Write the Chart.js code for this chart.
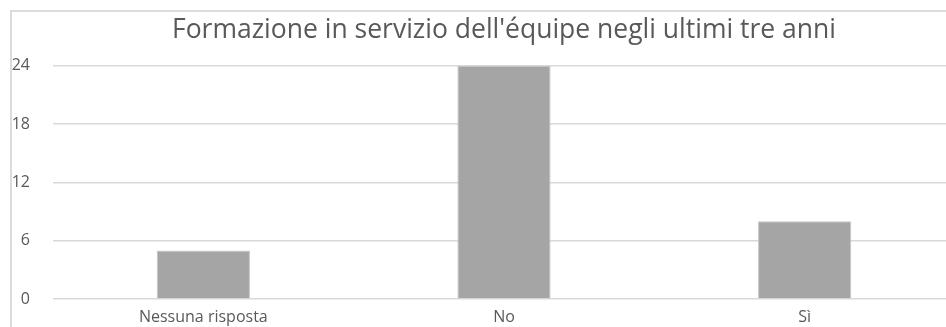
<!DOCTYPE html>
<html>
<head>
<meta charset="utf-8">
<script src="https://cdn.jsdelivr.net/npm/chart.js@4/dist/chart.umd.min.js"></script>
<style>
    html, body { margin: 0; padding: 0; background: #fff; overflow: hidden; }
    #wrap { position: relative; width: 946px; height: 327px; overflow: hidden; }
    #frame { position: absolute; left: 10px; top: 10px; width: 960px; height: 340px;
             border-left: 2px solid #dcdcdc; border-top: 2px solid #dcdcdc; }
    #box { position: absolute; left: 0; top: 0; width: 970px; height: 345px; }
</style>
</head>
<body>
<div id="wrap">
    <div id="frame"></div>
    <div id="box"><canvas id="chart"></canvas></div>
</div>
<script>
// data
const categories = ['Nessuna risposta', 'No', 'Sì'];
const counts = [5, 24, 8];
const yTicks = [0, 6, 12, 18, 24];

const textColor = '#595959';
const gridColor = '#d9d9d9';

const ctx = document.getElementById('chart').getContext('2d');
new Chart(ctx, {
    type: 'bar',
    data: {
        labels: categories,
        datasets: [{
            label: 'Risposte',
            data: counts,
            backgroundColor: '#a5a5a5',
            borderColor: '#c4c4c4',
            borderWidth: 1,
            categoryPercentage: 1,
            barPercentage: 0.31
        }]
    },
    options: {
        responsive: true,
        maintainAspectRatio: false,
        animation: false,
        layout: { padding: { left: 0, right: 15, top: 0, bottom: 0 } },
        plugins: {
            legend: { display: false },
            tooltip: { enabled: false },
            title: {
                display: true,
                fullSize: false, // centre over the plot area, not the whole canvas
                text: "Formazione in servizio dell'équipe negli ultimi tre anni",
                color: textColor,
                font: { family: 'Open Sans', size: 26.5, weight: 'normal', lineHeight: 1.2 },
                padding: { top: 15, bottom: 19 }
            }
        },
        scales: {
            x: {
                grid: { display: false, drawTicks: false },
                border: { display: false },
                ticks: {
                    color: textColor,
                    font: { family: 'Open Sans', size: 16 },
                    padding: 9,
                    maxRotation: 0
                },
                afterFit: (scale) => { scale.height = 46; }
            },
            y: {
                min: 0,
                max: 24,
                afterBuildTicks: (scale) => { scale.ticks = yTicks.map(v => ({ value: v })); },
                grid: { color: gridColor, lineWidth: 1.5, drawTicks: false },
                border: { display: false },
                ticks: {
                    color: textColor,
                    font: { family: 'Open Sans', size: 16 },
                    padding: 23
                },
                afterFit: (scale) => { scale.width = 53; }
            }
        }
    }
});
</script>
</body>
</html>
